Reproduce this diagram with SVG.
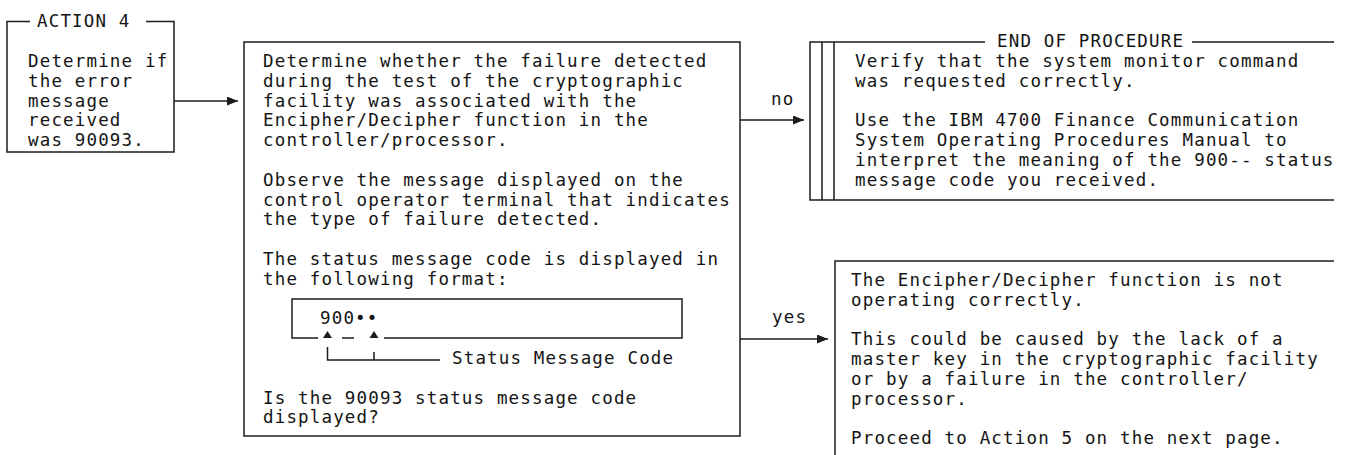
<svg xmlns="http://www.w3.org/2000/svg" width="1348" height="455" viewBox="0 0 1348 455">
<defs>
<style>
.t{font-family:"DejaVu Sans Mono","Liberation Mono",monospace;font-size:17.5px;letter-spacing:1.16px;fill:#141414}
.ln{stroke:#1c1c1c;stroke-width:1.5;fill:none}
.ah{fill:#1c1c1c}
</style>
<marker id="arr" viewBox="0 0 11 9" refX="11" refY="4.5" markerWidth="11" markerHeight="9" markerUnits="userSpaceOnUse" orient="auto">
<path d="M0,0 L11,4.5 L0,9 Z" class="ah"/>
</marker>
<clipPath id="pageclip"><rect x="0" y="0" width="1334" height="455"/></clipPath>
</defs>
<rect width="1348" height="455" fill="#ffffff"/>

<g id="action4">
<path class="ln" d="M30,21.5 H7 V152 H174 V21.5 H146"/>
<text class="t" x="37" y="27">ACTION 4</text>
<text class="t" x="28" y="67">Determine if</text>
<text class="t" x="28" y="86.8">the error</text>
<text class="t" x="28" y="106.6">message</text>
<text class="t" x="28" y="126.4">received</text>
<text class="t" x="28" y="146.2">was 90093.</text>
</g>

<g id="decision">
<rect class="ln" x="244" y="42" width="496" height="394"/>
<text class="t" x="263" y="67">Determine whether the failure detected</text>
<text class="t" x="263" y="86.8">during the test of the cryptographic</text>
<text class="t" x="263" y="106.6">facility was associated with the</text>
<text class="t" x="263" y="126.4">Encipher/Decipher function in the</text>
<text class="t" x="263" y="146.2">controller/processor.</text>
<text class="t" x="263" y="185.8">Observe the message displayed on the</text>
<text class="t" x="263" y="205.6">control operator terminal that indicates</text>
<text class="t" x="263" y="225.4">the type of failure detected.</text>
<text class="t" x="263" y="265">The status message code is displayed in</text>
<text class="t" x="263" y="284.8">the following format:</text>
<g id="format">
<path class="ln" d="M318,338 H292 V299 H682 V338 H384"/>
<path class="ln" d="M342,338 H354"/>
<polygon class="ah" points="323,338 327.5,331 332,338"/>
<polygon class="ah" points="369.5,338 374,331 378.5,338"/>
<path class="ln" d="M327.5,347 V360 H440 M374,352 V360"/>
<text class="t" x="320" y="324.4">900••</text>
<text class="t" x="452" y="364">Status Message Code</text>
</g>
<text class="t" x="263" y="403.6">Is the 90093 status message code</text>
<text class="t" x="263" y="423.4">displayed?</text>
</g>

<g id="end-of-procedure" clip-path="url(#pageclip)">
<path class="ln" d="M985,42 H810 V200 H1334 M1192,42 H1334 M822,42 V200 M834,42 V200"/>
<text class="t" x="997" y="46.5">END OF PROCEDURE</text>
<text class="t" x="855" y="67">Verify that the system monitor command</text>
<text class="t" x="855" y="86.8">was requested correctly.</text>
<text class="t" x="855" y="126.4">Use the IBM 4700 Finance Communication</text>
<text class="t" x="855" y="146.2">System Operating Procedures Manual to</text>
<text class="t" x="855" y="166">interpret the meaning of the 900-- status</text>
<text class="t" x="855" y="185.8">message code you received.</text>
</g>

<g id="not-operating" clip-path="url(#pageclip)">
<path class="ln" d="M835,455 V261 H1334"/>
<text class="t" x="851" y="286">The Encipher/Decipher function is not</text>
<text class="t" x="851" y="305.8">operating correctly.</text>
<text class="t" x="851" y="345.4">This could be caused by the lack of a</text>
<text class="t" x="851" y="365.2">master key in the cryptographic facility</text>
<text class="t" x="851" y="385">or by a failure in the controller/</text>
<text class="t" x="851" y="404.8">processor.</text>
<text class="t" x="851" y="444.4">Proceed to Action 5 on the next page.</text>
</g>

<g id="connectors">
<path class="ln" d="M174,101 H238" marker-end="url(#arr)"/>
<path class="ln" d="M740,120 H804" marker-end="url(#arr)"/>
<path class="ln" d="M740,339 H828" marker-end="url(#arr)"/>
<text class="t" x="771" y="105">no</text>
<text class="t" x="772" y="323">yes</text>
</g>
</svg>
